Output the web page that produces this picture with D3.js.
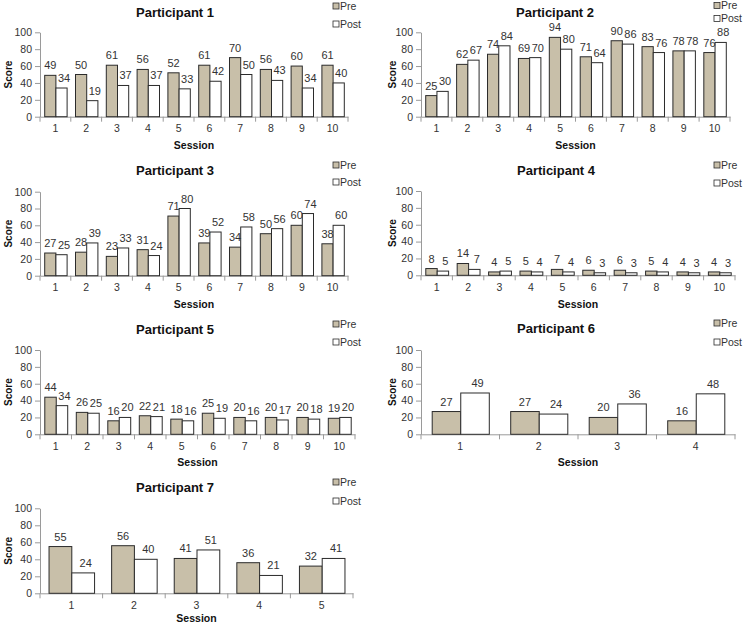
<!DOCTYPE html>
<html><head><meta charset="utf-8">
<script src="https://cdn.jsdelivr.net/npm/d3@7"></script>
<style>
body{margin:0;background:#fff;}
svg text{font-family:"Liberation Sans",Arial,sans-serif;}
</style></head>
<body>
<svg id="c" width="744" height="625"></svg>
<script>
// ---- data ----
const titles = ["Participant  1","Participant 2","Participant 3","Participant 4","Participant 5","Participant 6","Participant 7"];
const sessions1 = ["1","2","3","4","5","6","7","8","9","10"];
const sessions4 = ["1","2","3","4"];
const sessions5 = ["1","2","3","4","5"];
const pre1 = [49,50,61,56,52,61,70,56,60,61];
const post1 = [34,19,37,37,33,42,50,43,34,40];
const pre2 = [25,62,74,69,94,71,90,83,78,76];
const post2 = [30,67,84,70,80,64,86,76,78,88];
const pre3 = [27,28,23,31,71,39,34,50,60,38];
const post3 = [25,39,33,24,80,52,58,56,74,60];
const pre4 = [8,14,4,5,7,6,6,5,4,4];
const post4 = [5,7,5,4,4,3,3,4,3,3];
const pre5 = [44,26,16,22,18,25,20,20,20,19];
const post5 = [34,25,20,21,16,19,16,17,18,20];
const pre6 = [27,27,20,16];
const post6 = [49,24,36,48];
const pre7 = [55,56,41,36,32];
const post7 = [24,40,51,21,41];
const yTicks = [0,20,40,60,80,100];
const seriesNames = ["Pre","Post"];

// ---- layout ----
const panels = [
  {cats:sessions1, pre:pre1, post:post1, x0:40, x1:348, yT:32.3, yB:116.7, tx:175, ty:12, lx:333, lyPre:6, lyPost:24, sx:8, sy:145},
  {cats:sessions1, pre:pre2, post:post2, x0:421, x1:730, yT:32.3, yB:116.7, tx:555, ty:12, lx:714, lyPre:5.5, lyPost:18.5, sx:392, sy:145},
  {cats:sessions1, pre:pre3, post:post3, x0:40, x1:348, yT:191.7, yB:275.7, tx:175, ty:170, lx:333, lyPre:165, lyPost:182, sx:8, sy:304},
  {cats:sessions1, pre:pre4, post:post4, x0:421, x1:735, yT:191, yB:275.3, tx:556, ty:170.5, lx:714, lyPre:165, lyPost:183, sx:392, sy:304},
  {cats:sessions1, pre:pre5, post:post5, x0:40, x1:355, yT:350, yB:434.3, tx:175, ty:329, lx:333, lyPre:324, lyPost:342, sx:8, sy:462},
  {cats:sessions4, pre:pre6, post:post6, x0:421, x1:735, yT:350, yB:434.3, tx:556, ty:328, lx:714, lyPre:323, lyPost:342, sx:392, sy:462},
  {cats:sessions5, pre:pre7, post:post7, x0:40, x1:353, yT:508.3, yB:593.3, tx:175, ty:487, lx:333, lyPre:482, lyPost:501, sx:8, sy:618.5}
];
const preFill = "#c8bfa9", barStroke = "#2b2b2b", axisCol = "#9a9a9a", txt = "#333";
const FONT = "Liberation Sans, Arial, sans-serif";

const svg = d3.select("#c");
panels.forEach((p, i) => {
  const g = svg.append("g");
  const x = d3.scaleBand().domain(p.cats).range([p.x0, p.x1]);
  const inner = d3.scaleBand().domain(seriesNames).range([0, x.bandwidth()]).paddingInner(0).paddingOuter(0.375);
  const y = d3.scaleLinear().domain([0,100]).range([p.yB, p.yT]);

  // title
  g.append("text").attr("x", p.tx).attr("y", p.ty).attr("dy","0.36em")
    .attr("text-anchor","middle").attr("font-size",13).attr("font-weight","bold").attr("fill","#111").text(titles[i]);

  // y axis
  const ya = g.append("g").attr("transform",`translate(${p.x0},0)`)
    .call(d3.axisLeft(y).tickValues(yTicks).tickSize(5).tickPadding(3).tickSizeOuter(0));
  ya.select(".domain").attr("stroke",axisCol);
  ya.selectAll(".tick line").attr("stroke",axisCol);
  ya.selectAll(".tick text").attr("font-size",10.5).attr("fill",txt).style("font-family",FONT);

  // x axis
  const xa = g.append("g").attr("transform",`translate(0,${p.yB})`)
    .call(d3.axisBottom(x).tickSize(0).tickPadding(8));
  xa.select(".domain").attr("stroke",axisCol);
  xa.selectAll(".tick text").attr("font-size",10.5).attr("fill",txt).style("font-family",FONT);
  const bounds = p.cats.map(c => x(c)).concat([x(p.cats[p.cats.length-1]) + x.bandwidth()]);
  g.selectAll(".xb").data(bounds).join("line")
    .attr("x1",d=>d).attr("x2",d=>d).attr("y1",p.yB).attr("y2",p.yB+5).attr("stroke",axisCol);

  // axis titles
  g.append("text").attr("transform",`translate(${p.sx},${(p.yT+p.yB)/2}) rotate(-90)`).attr("dy","0.36em")
    .attr("text-anchor","middle").attr("font-size",10).attr("font-weight","bold").attr("fill","#111").text("Score");
  g.append("text").attr("x",(p.x0+p.x1)/2).attr("y",p.sy).attr("dy","0.36em")
    .attr("text-anchor","middle").attr("font-size",10.5).attr("font-weight","bold").attr("fill","#111").text("Session");

  // bars
  const rows = [];
  p.cats.forEach((c, k) => {
    rows.push({cat:c, s:"Pre", v:p.pre[k]});
    rows.push({cat:c, s:"Post", v:p.post[k]});
  });
  g.selectAll(".bar").data(rows).join("rect")
    .attr("x", d => x(d.cat) + inner(d.s) + 0.5)
    .attr("width", inner.bandwidth())
    .attr("y", d => y(d.v))
    .attr("height", d => y(0) - y(d.v))
    .attr("fill", d => d.s === "Pre" ? preFill : "#fff")
    .attr("stroke", barStroke).attr("stroke-width",1);
  g.selectAll(".lbl").data(rows).join("text")
    .attr("x", d => x(d.cat) + inner(d.s) + inner.bandwidth()/2 + (d.s === "Post" ? 3 : 0.5))
    .attr("y", d => y(d.v) - 6)
    .attr("text-anchor","middle").attr("font-size",11).attr("fill",txt).text(d => d.v);

  // legend
  [[p.lyPre, preFill, "Pre"], [p.lyPost, "#fff", "Post"]].forEach(([ly, f, t]) => {
    g.append("rect").attr("x", p.lx).attr("y", ly-3).attr("width",6).attr("height",6)
      .attr("fill", f).attr("stroke", barStroke).attr("stroke-width",0.8);
    g.append("text").attr("x", p.lx+7).attr("y", ly).attr("dy","0.36em")
      .attr("font-size",10.5).attr("fill",txt).text(t);
  });
});
</script>
</body></html>
